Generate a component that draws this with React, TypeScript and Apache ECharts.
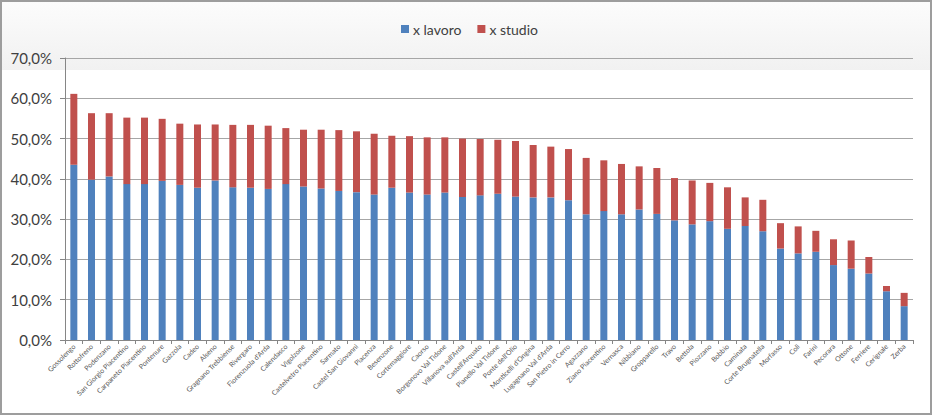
import React, { useEffect, useRef } from "react";
import * as echarts from "echarts";

const categories = [
  "Gossolengo", "Rottofreno", "Podenzano", "San Giorgio Piacentino", "Carpaneto Piacentino",
  "Pontenure", "Gazzola", "Cadeo", "Alseno", "Gragnano Trebbiense", "Rivergaro",
  "Fiorenzuola d'Arda", "Calendasco", "Vigolzone", "Castelvetro Piacentino", "Sarmato",
  "Castel San Giovanni", "Piacenza", "Besenzone", "Cortemaggiore", "Caorso",
  "Borgonovo Val Tidone", "Villanova sull'Arda", "Castell'Arquato", "Pianello Val Tidone",
  "Ponte dell'Olio", "Monticelli d'Ongina", "Lugagnano Val d'Arda", "San Pietro in Cerro",
  "Agazzano", "Ziano Piacentino", "Vernasca", "Nibbiano", "Gropparello", "Travo", "Bettola",
  "Piozzano", "Bobbio", "Caminata", "Corte Brugnatella", "Morfasso", "Coli", "Farini",
  "Pecorara", "Ottone", "Ferriere", "Cerignale", "Zerba",
];

const lavoro = [
  43.5, 39.8, 40.6, 38.7, 38.7, 39.5, 38.5, 37.8, 39.6, 37.9, 37.8, 37.5,
  38.7, 38.1, 37.6, 37.0, 36.7, 36.1, 37.8, 36.6, 36.1, 36.6, 35.5, 35.9,
  36.3, 35.6, 35.4, 35.4, 34.7, 31.2, 32.0, 31.2, 32.4, 31.3, 29.7, 28.7,
  29.5, 27.6, 28.3, 27.0, 22.7, 21.5, 21.9, 18.6, 17.7, 16.5, 12.1, 8.4,
];

const studio = [
  17.6, 16.5, 15.7, 16.5, 16.5, 15.4, 15.2, 15.7, 13.9, 15.5, 15.6, 15.7,
  13.9, 14.1, 14.6, 15.1, 15.1, 15.1, 12.9, 14.0, 14.2, 13.7, 14.5, 14.0,
  13.4, 13.8, 13.0, 12.6, 12.7, 14.0, 12.6, 12.5, 10.7, 11.4, 10.5, 10.9,
  9.5, 10.3, 7.1, 7.8, 6.3, 6.7, 5.2, 6.4, 7.0, 4.1, 1.3, 3.3,
];

const seriesNames = ["x lavoro", "x studio"];
const FONT = "Lato, 'Open Sans', sans-serif";

export default function App() {
  const ref = useRef<HTMLDivElement>(null);
  useEffect(() => {
    if (!ref.current) return;
    const chart = echarts.init(ref.current, null, { renderer: "svg" });
    chart.setOption({
      animation: false,
      backgroundColor: "#ffffff",
      textStyle: { fontFamily: FONT },
      graphic: [
        {
          type: "rect",
          z: -10,
          silent: true,
          shape: { x: 1, y: 1, width: 930, height: 69 },
          style: {
            fill: new echarts.graphic.LinearGradient(0, 0, 0, 1, [
              { offset: 0, color: "#fcfcfc" },
              { offset: 1, color: "#f1f1f1" },
            ]),
          },
        },
        {
          type: "rect",
          z: 100,
          silent: true,
          shape: { x: 1, y: 1, width: 930, height: 413 },
          style: { fill: "none", stroke: "#9d9d9d", lineWidth: 2 },
        },
      ],
      legend: {
        data: seriesNames,
        left: 396,
        top: 17,
        itemWidth: 8,
        itemHeight: 8,
        itemGap: 16,
        icon: "rect",
        textStyle: { fontSize: 14, color: "#404040", fontFamily: FONT, padding: [0, 0, 0, -1] },
      },
      grid: { left: 65, right: 20, top: 58, bottom: 76, containLabel: false },
      xAxis: {
        type: "category",
        data: categories,
        axisLine: { lineStyle: { color: "#868686", width: 1 } },
        axisTick: { show: true, length: 4, alignWithLabel: false, lineStyle: { color: "#868686" } },
        axisLabel: {
          interval: 0,
          rotate: 45,
          fontSize: 7,
          color: "#595959",
          fontFamily: FONT,
          margin: 5,
        },
      },
      yAxis: {
        type: "value",
        min: 0,
        max: 70,
        interval: 10,
        axisLine: { show: true, lineStyle: { color: "#868686", width: 1 } },
        axisTick: { show: true, length: 5, lineStyle: { color: "#868686" } },
        splitLine: { lineStyle: { color: "#a6a6a6", width: 1 } },
        axisLabel: {
          fontSize: 15,
          color: "#404040",
          fontFamily: FONT,
          margin: 13,
          formatter: (v: number) => v.toFixed(1).replace(".", ",") + "%",
        },
      },
      series: [
        {
          name: seriesNames[0],
          type: "bar",
          stack: "tot",
          data: lavoro,
          barWidth: 7,
          itemStyle: { color: "#4f81bd" },
        },
        {
          name: seriesNames[1],
          type: "bar",
          stack: "tot",
          data: studio,
          barWidth: 7,
          itemStyle: { color: "#c0504d" },
        },
      ],
    });
    return () => chart.dispose();
  }, []);
  return (
    <div
      ref={ref}
      style={{ position: "absolute", left: 0, top: 0, width: 933, height: 416 }}
    />
  );
}
